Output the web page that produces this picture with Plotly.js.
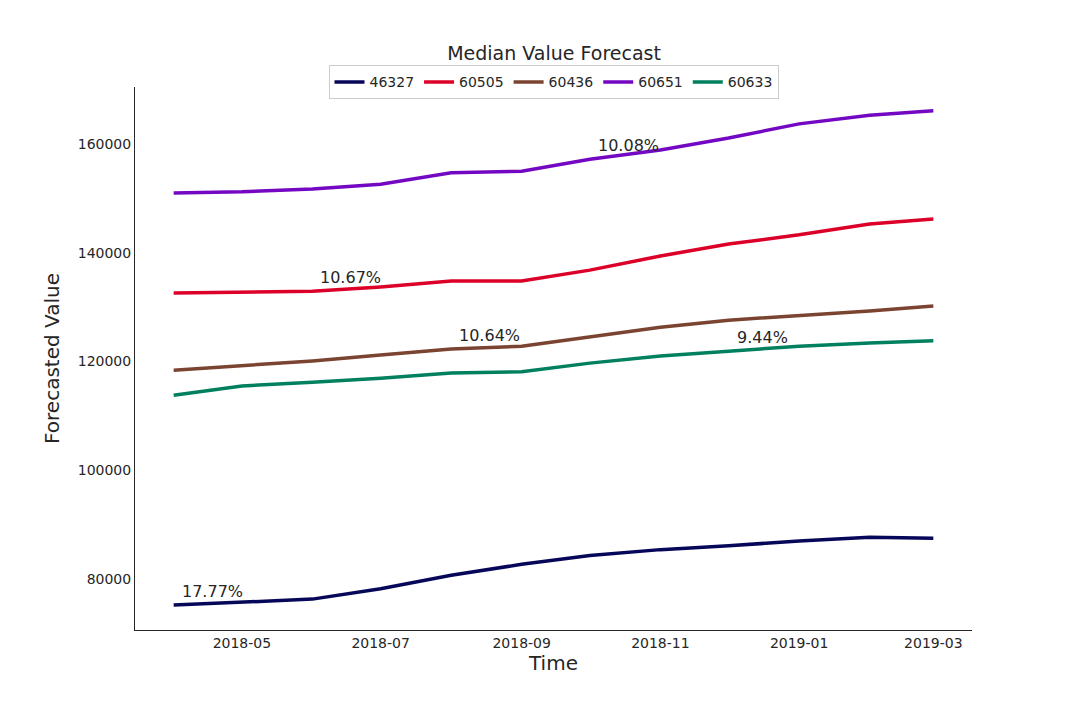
<!DOCTYPE html>
<html>
<head>
<script src="https://cdn.plot.ly/plotly-3.0.1.min.js"></script>
<style>body{margin:0;background:#fff}</style>
</head>
<body>
<div id="chart" style="width:1080px;height:720px"></div>
<script>
var dates = ['2018-04-01','2018-05-01','2018-06-01','2018-07-01','2018-08-01','2018-09-01',
  '2018-10-01','2018-11-01','2018-12-01','2019-01-01','2019-02-01','2019-03-01'];
var names = ['46327', '60505', '60436', '60651', '60633'];
var colors = ['#07075a', '#dc0029', '#7a4431', '#7408c2', '#00805e'];
var z46327 = [75200, 75800, 76300, 78200, 80700, 82700, 84300, 85400, 86100, 87000, 87700, 87500];
var z60505 = [132600, 132800, 132900, 133700, 134800, 134800, 136800, 139400, 141600, 143300, 145300, 146200];
var z60436 = [118400, 119200, 120100, 121200, 122300, 122800, 124500, 126300, 127600, 128400, 129300, 130200];
var z60651 = [151000, 151200, 151700, 152600, 154700, 155000, 157200, 158900, 161100, 163700, 165300, 166100];
var z60633 = [113800, 115500, 116200, 116900, 117900, 118100, 119700, 121000, 121900, 122800, 123400, 123800];
var series = [z46327, z60505, z60436, z60651, z60633];
var labels = ['17.77%', '10.67%', '10.64%', '10.08%', '9.44%'];
var labelDates = ['2018-04-01', '2018-06-01', '2018-08-01', '2018-10-01', '2018-12-01'];
var labelIdx = [0, 2, 4, 6, 8];

var traces = series.map(function (s, i) {
  return {x: dates, y: s, name: names[i], type: 'scatter', mode: 'lines',
    line: {color: colors[i], width: 3.5}};
});

var annotations = labels.map(function (t, i) {
  return {x: labelDates[i], y: series[i][labelIdx[i]], text: t, showarrow: false,
    xanchor: 'left', yanchor: 'bottom', xshift: 6, yshift: 2,
    font: {size: 16, color: '#262626'}};
});

var layout = {
  width: 1080, height: 720,
  margin: {l: 135, r: 108, t: 87, b: 90},
  paper_bgcolor: '#fff', plot_bgcolor: '#fff',
  font: {family: 'DejaVu Sans, Arial, sans-serif', color: '#262626'},
  title: {text: 'Median Value Forecast', x: 0.513, y: 0.935, font: {size: 19}},
  showlegend: true,
  legend: {orientation: 'h', x: 0.5, xanchor: 'center', y: 1.04, yanchor: 'top',
    bordercolor: '#ccc', borderwidth: 1, font: {size: 14}, bgcolor: '#fff'},
  xaxis: {type: 'date', range: ['2018-03-15', '2019-03-18'],
    tickvals: ['2018-05-01','2018-07-01','2018-09-01','2018-11-01','2019-01-01','2019-03-01'],
    ticktext: ['2018-05','2018-07','2018-09','2018-11','2019-01','2019-03'],
    showgrid: false, zeroline: false, showline: true, linecolor: '#262626', linewidth: 1,
    tickfont: {size: 14}, title: {text: 'Time', font: {size: 20}, standoff: 4}},
  yaxis: {range: [70620, 170480], dtick: 20000, tickformat: 'd',
    showgrid: false, zeroline: false, showline: true, linecolor: '#262626', linewidth: 1,
    tickfont: {size: 14}, title: {text: 'Forecasted Value', font: {size: 20}, standoff: 12}},
  annotations: annotations
};

Plotly.newPlot('chart', traces, layout, {displayModeBar: false});
</script>
</body>
</html>
